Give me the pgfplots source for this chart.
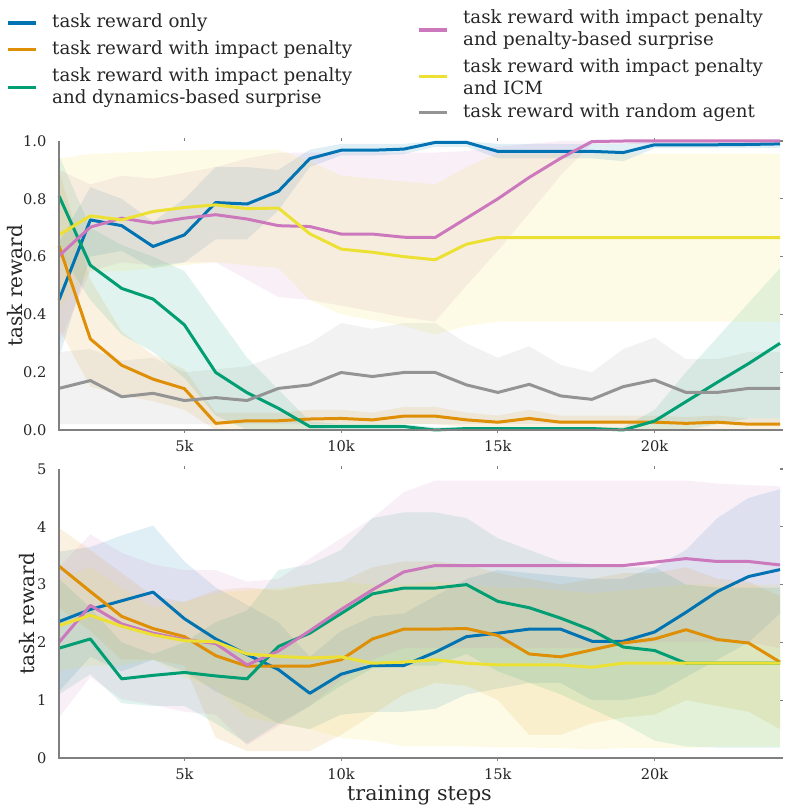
\documentclass[border=0pt]{standalone}
\usepackage{fontspec}
\setmainfont{DejaVu Serif}
\usepackage{pgfplots}
\usepackage{pgfplotstable}
\pgfplotsset{compat=1.18}
\usepgfplotslibrary{fillbetween}

\definecolor{cblue}{HTML}{0173B2}
\definecolor{corange}{HTML}{DE8F05}
\definecolor{cgreen}{HTML}{029E73}
\definecolor{cpink}{HTML}{CC78BC}
\definecolor{cyellow}{HTML}{ECE133}
\definecolor{cgray}{HTML}{949494}
\definecolor{axisgray}{HTML}{808080}
\definecolor{textcol}{HTML}{262626}

\pgfplotstableread{
x  bm    blo   bhi   om    olo   ohi   gm    glo   ghi   pm    plo   phi   ym    ylo   yhi   am    alo   ahi
1  0.450 0.25  0.65  0.637 0.35  0.90  0.810 0.62  0.95  0.603 0.30  0.90  0.675 0.42  0.94  0.144 0.02  0.27
2  0.727 0.60  0.84  0.315 0.15  0.52  0.570 0.45  0.70  0.702 0.55  0.85  0.741 0.55  0.955 0.171 0.02  0.28
3  0.707 0.62  0.80  0.224 0.12  0.34  0.490 0.33  0.64  0.733 0.58  0.88  0.727 0.55  0.96  0.115 0.02  0.24
4  0.635 0.56  0.72  0.176 0.10  0.26  0.453 0.27  0.60  0.716 0.57  0.87  0.756 0.56  0.965 0.127 0.02  0.25
5  0.675 0.58  0.80  0.143 0.07  0.21  0.364 0.18  0.55  0.733 0.58  0.89  0.770 0.57  0.967 0.102 0.02  0.20
6  0.787 0.66  0.91  0.023 0.00  0.06  0.199 0.05  0.40  0.745 0.58  0.91  0.779 0.58  0.97  0.112 0.02  0.21
7  0.782 0.66  0.91  0.032 0.00  0.06  0.129 0.00  0.25  0.730 0.52  0.94  0.766 0.57  0.97  0.102 0.02  0.22
8  0.826 0.76  0.90  0.032 0.00  0.06  0.075 0.00  0.14  0.707 0.46  0.96  0.768 0.56  0.97  0.144 0.02  0.26
9  0.939 0.91  0.97  0.038 0.00  0.07  0.012 0.00  0.03  0.704 0.45  0.96  0.679 0.45  0.93  0.156 0.02  0.30
10 0.968 0.95  0.99  0.040 0.01  0.07  0.012 0.00  0.02  0.678 0.43  0.96  0.626 0.40  0.88  0.199 0.02  0.37
11 0.968 0.95  0.99  0.035 0.01  0.06  0.012 0.00  0.02  0.678 0.41  0.96  0.615 0.38  0.87  0.185 0.02  0.35
12 0.972 0.955 0.99  0.048 0.02  0.08  0.012 0.00  0.02  0.667 0.39  0.96  0.600 0.36  0.86  0.199 0.02  0.37
13 0.995 0.98  1.00  0.048 0.02  0.08  0.000 0.00  0.01  0.666 0.375 0.96  0.589 0.33  0.85  0.199 0.02  0.37
14 0.995 0.98  1.00  0.035 0.01  0.06  0.005 0.00  0.01  0.733 0.50  0.965 0.643 0.36  0.91  0.156 0.02  0.30
15 0.964 0.94  0.99  0.027 0.00  0.05  0.005 0.00  0.01  0.800 0.62  0.98  0.666 0.375 0.956 0.130 0.02  0.25
16 0.964 0.94  0.99  0.040 0.01  0.07  0.005 0.00  0.01  0.874 0.75  0.99  0.666 0.375 0.956 0.158 0.02  0.29
17 0.964 0.94  0.99  0.027 0.00  0.05  0.005 0.00  0.01  0.940 0.88  1.00  0.666 0.375 0.956 0.118 0.02  0.225
18 0.964 0.94  0.99  0.027 0.00  0.05  0.005 0.00  0.01  0.998 0.99  1.00  0.666 0.375 0.956 0.106 0.02  0.20
19 0.960 0.93  0.99  0.027 0.00  0.05  0.000 0.00  0.01  1.000 0.99  1.00  0.666 0.375 0.956 0.150 0.02  0.28
20 0.987 0.975 1.00  0.027 0.00  0.05  0.031 0.00  0.07  1.000 0.99  1.00  0.666 0.375 0.956 0.173 0.02  0.32
21 0.987 0.975 1.00  0.023 0.00  0.045 0.098 0.00  0.20  1.000 0.99  1.00  0.666 0.375 0.956 0.130 0.02  0.245
22 0.987 0.975 1.00  0.027 0.00  0.05  0.165 0.02  0.32  1.000 0.99  1.00  0.666 0.375 0.956 0.130 0.02  0.245
23 0.988 0.975 1.00  0.020 0.00  0.04  0.230 0.04  0.44  1.000 0.99  1.00  0.666 0.375 0.956 0.144 0.02  0.27
24 0.990 0.975 1.00  0.020 0.00  0.04  0.300 0.04  0.56  1.000 0.99  1.00  0.666 0.375 0.956 0.144 0.02  0.27
}\toptab

\pgfplotstableread{
x  bm   blo  bhi  om   olo  ohi  gm   glo  ghi  pm   plo  phi  ym   ylo  yhi
1  2.36 1.15 3.57 3.32 2.60 3.98 1.90 1.10 3.10 2.00 0.70 3.30 2.29 1.50 3.10
2  2.57 1.75 3.65 2.88 2.20 3.60 2.06 1.45 2.60 2.64 1.40 3.87 2.47 1.60 3.30
3  2.72 1.50 3.85 2.45 1.70 3.20 1.37 0.95 2.00 2.32 1.02 3.55 2.28 1.60 2.95
4  2.87 1.70 4.02 2.24 1.70 2.80 1.43 0.90 1.80 2.16 0.92 3.35 2.13 1.70 2.60
5  2.41 1.50 3.40 2.10 1.60 2.70 1.48 0.90 2.00 2.05 0.80 3.25 2.03 1.40 2.70
6  2.06 1.15 2.95 1.77 0.35 2.90 1.42 0.60 2.35 1.98 0.75 3.25 2.01 1.20 2.85
7  1.79 0.90 2.65 1.59 0.12 2.95 1.37 0.25 2.55 1.61 0.22 3.05 1.80 0.70 2.90
8  1.53 0.60 2.35 1.59 0.12 2.90 1.93 0.60 3.25 1.85 0.55 3.10 1.76 0.60 2.95
9  1.12 0.50 1.75 1.59 0.12 3.00 2.16 0.90 3.35 2.20 0.90 3.45 1.73 0.50 3.00
10 1.45 0.75 2.20 1.70 0.40 3.05 2.50 1.25 3.60 2.57 1.35 3.80 1.75 0.35 3.05
11 1.60 0.80 2.45 2.06 0.75 3.30 2.84 1.55 4.15 2.91 1.70 4.15 1.64 0.30 3.00
12 1.60 0.80 2.50 2.23 1.10 3.40 2.94 1.60 4.25 3.22 1.90 4.60 1.66 0.20 3.00
13 1.83 0.85 2.80 2.23 1.30 3.40 2.94 1.60 4.25 3.33 1.90 4.80 1.70 0.20 3.05
14 2.10 1.10 3.10 2.24 1.25 3.35 3.00 1.80 4.15 3.33 1.90 4.80 1.64 0.20 3.00
15 2.16 1.20 3.25 2.12 1.00 3.20 2.71 1.50 3.80 3.33 1.90 4.80 1.61 0.18 2.95
16 2.23 1.30 3.20 1.80 0.40 3.10 2.60 1.30 3.60 3.33 1.90 4.80 1.61 0.18 2.95
17 2.23 1.30 3.15 1.75 0.40 3.00 2.42 1.10 3.40 3.33 1.90 4.80 1.61 0.17 2.90
18 2.02 1.00 3.10 1.87 0.60 3.10 2.21 0.85 3.35 3.33 1.90 4.80 1.57 0.15 2.85
19 2.02 1.00 3.10 1.99 0.70 3.20 1.92 0.60 3.30 3.33 1.95 4.80 1.64 0.17 2.90
20 2.18 1.10 3.30 2.06 0.75 3.20 1.86 0.30 3.30 3.39 2.00 4.80 1.64 0.17 2.95
21 2.52 1.40 3.60 2.22 1.00 3.30 1.64 0.20 3.00 3.45 2.00 4.80 1.64 0.17 3.00
22 2.88 1.70 4.15 2.05 0.90 3.10 1.64 0.18 2.95 3.40 2.00 4.75 1.64 0.20 3.00
23 3.14 2.00 4.50 1.99 0.80 3.05 1.64 0.18 2.95 3.40 2.00 4.72 1.64 0.20 3.00
24 3.26 2.50 4.65 1.66 0.50 2.80 1.64 0.18 2.95 3.34 1.90 4.70 1.64 0.20 3.00
}\bottab

\newcommand{\band}[5]{%
  \addplot[name path=#5lo, draw=none, forget plot] table[x=x,y=#2]{#1};
  \addplot[name path=#5hi, draw=none, forget plot] table[x=x,y=#3]{#1};
  \addplot[fill=#4, fill opacity=0.12, draw=none, forget plot] fill between[of=#5lo and #5hi];
}
\newcommand{\mline}[3]{%
  \addplot[#3, line width=1.5pt, line join=round, forget plot] table[x=x,y=#2]{#1};
}

\pgfplotsset{
  myaxis/.style={
    scale only axis, width=360.5pt, height=144.5pt,
    xmin=1, xmax=24, clip=false,
    xtick={5,10,15,20}, xticklabels={5k,10k,15k,20k},
    xtick pos=both, ytick pos=right,
    xticklabel pos=left, yticklabel pos=left,
    tick align=outside, major tick length=1.6pt,
    tick style={axisgray, line width=0.6pt},
    axis line style={draw=none},
    after end axis/.code={\draw[axisgray, line width=0.8pt] (rel axis cs:0,1) -- (rel axis cs:0,0) -- (rel axis cs:1,0);},
    tick label style={font=\fontsize{7.3}{8}\selectfont, text=textcol},
    xticklabel style={inner sep=0pt, yshift=-3.5pt},
    yticklabel style={inner sep=0pt, xshift=-4.5pt},
    /pgf/number format/assume math mode=true,
    label style={font=\fontsize{10}{12}\selectfont, text=textcol},
    legend cell align=left,
    legend image code/.code={\draw[line width=1.6pt, #1] (0pt,0pt) -- (14pt,0pt);},
    legend style={draw=none, fill=none, inner sep=0pt, outer sep=0pt,
      row sep=4.4pt, font=\fontsize{9.1}{11}\selectfont, text=textcol,
      align=left, nodes={inner sep=0pt, text depth={}},
      /tikz/every odd column/.append style={column sep=7.5pt}},
  }
}

\begin{document}
\begin{tikzpicture}

\begin{axis}[myaxis, at={(0,0)}, anchor=south west,
  ymin=0, ymax=1, ytick={0,0.2,0.4,0.6,0.8,1.0},
  yticklabels={0.0,0.2,0.4,0.6,0.8,1.0},
  ylabel={task reward},
  ylabel style={at={(axis description cs:-0.061,0.5)}, anchor=center},
  legend style={at={(axis description cs:-0.0735,1.439)}, anchor=north west},
]
\band{\toptab}{blo}{bhi}{cblue}{tb}
\band{\toptab}{olo}{ohi}{corange}{to}
\band{\toptab}{glo}{ghi}{cgreen}{tg}
\band{\toptab}{plo}{phi}{cpink}{tp}
\band{\toptab}{ylo}{yhi}{cyellow}{ty}
\band{\toptab}{alo}{ahi}{cgray}{ta}
\mline{\toptab}{bm}{cblue}
\mline{\toptab}{om}{corange}
\mline{\toptab}{gm}{cgreen}
\mline{\toptab}{pm}{cpink}
\mline{\toptab}{ym}{cyellow}
\mline{\toptab}{am}{cgray}
\addlegendimage{cblue}
\addlegendentry{task reward only}
\addlegendimage{corange}
\addlegendentry{task reward with impact penalty}
\addlegendimage{cgreen}
\addlegendentry{task reward with impact penalty\\and dynamics-based surprise}
\end{axis}

\begin{axis}[myaxis, at={(0,-164pt)}, anchor=south west,
  ymin=0, ymax=5, ytick={0,1,2,3,4,5},
  yticklabels={0,1,2,3,4,5},
  ylabel={task reward},
  ylabel style={at={(axis description cs:-0.0444,0.5)}, anchor=center},
  xlabel={training steps},
  xlabel style={at={(axis description cs:0.5,-0.128)}, anchor=center, font=\fontsize{10.3}{12}\selectfont},
  legend style={at={(axis description cs:0.4965,2.588)}, anchor=north west},
]
\band{\bottab}{blo}{bhi}{cblue}{bb}
\band{\bottab}{olo}{ohi}{corange}{bo}
\band{\bottab}{glo}{ghi}{cgreen}{bg}
\band{\bottab}{plo}{phi}{cpink}{bp}
\band{\bottab}{ylo}{yhi}{cyellow}{by}
\mline{\bottab}{bm}{cblue}
\mline{\bottab}{om}{corange}
\mline{\bottab}{gm}{cgreen}
\mline{\bottab}{pm}{cpink}
\mline{\bottab}{ym}{cyellow}
\addlegendimage{cpink}
\addlegendentry{task reward with impact penalty\\and penalty-based surprise}
\addlegendimage{cyellow}
\addlegendentry{task reward with impact penalty\\and ICM}
\addlegendimage{cgray}
\addlegendentry{task reward with random agent}
\end{axis}

\pgfresetboundingbox
\useasboundingbox (-29.5pt,-189.5pt) rectangle (365pt,215pt);
\end{tikzpicture}
\end{document}
